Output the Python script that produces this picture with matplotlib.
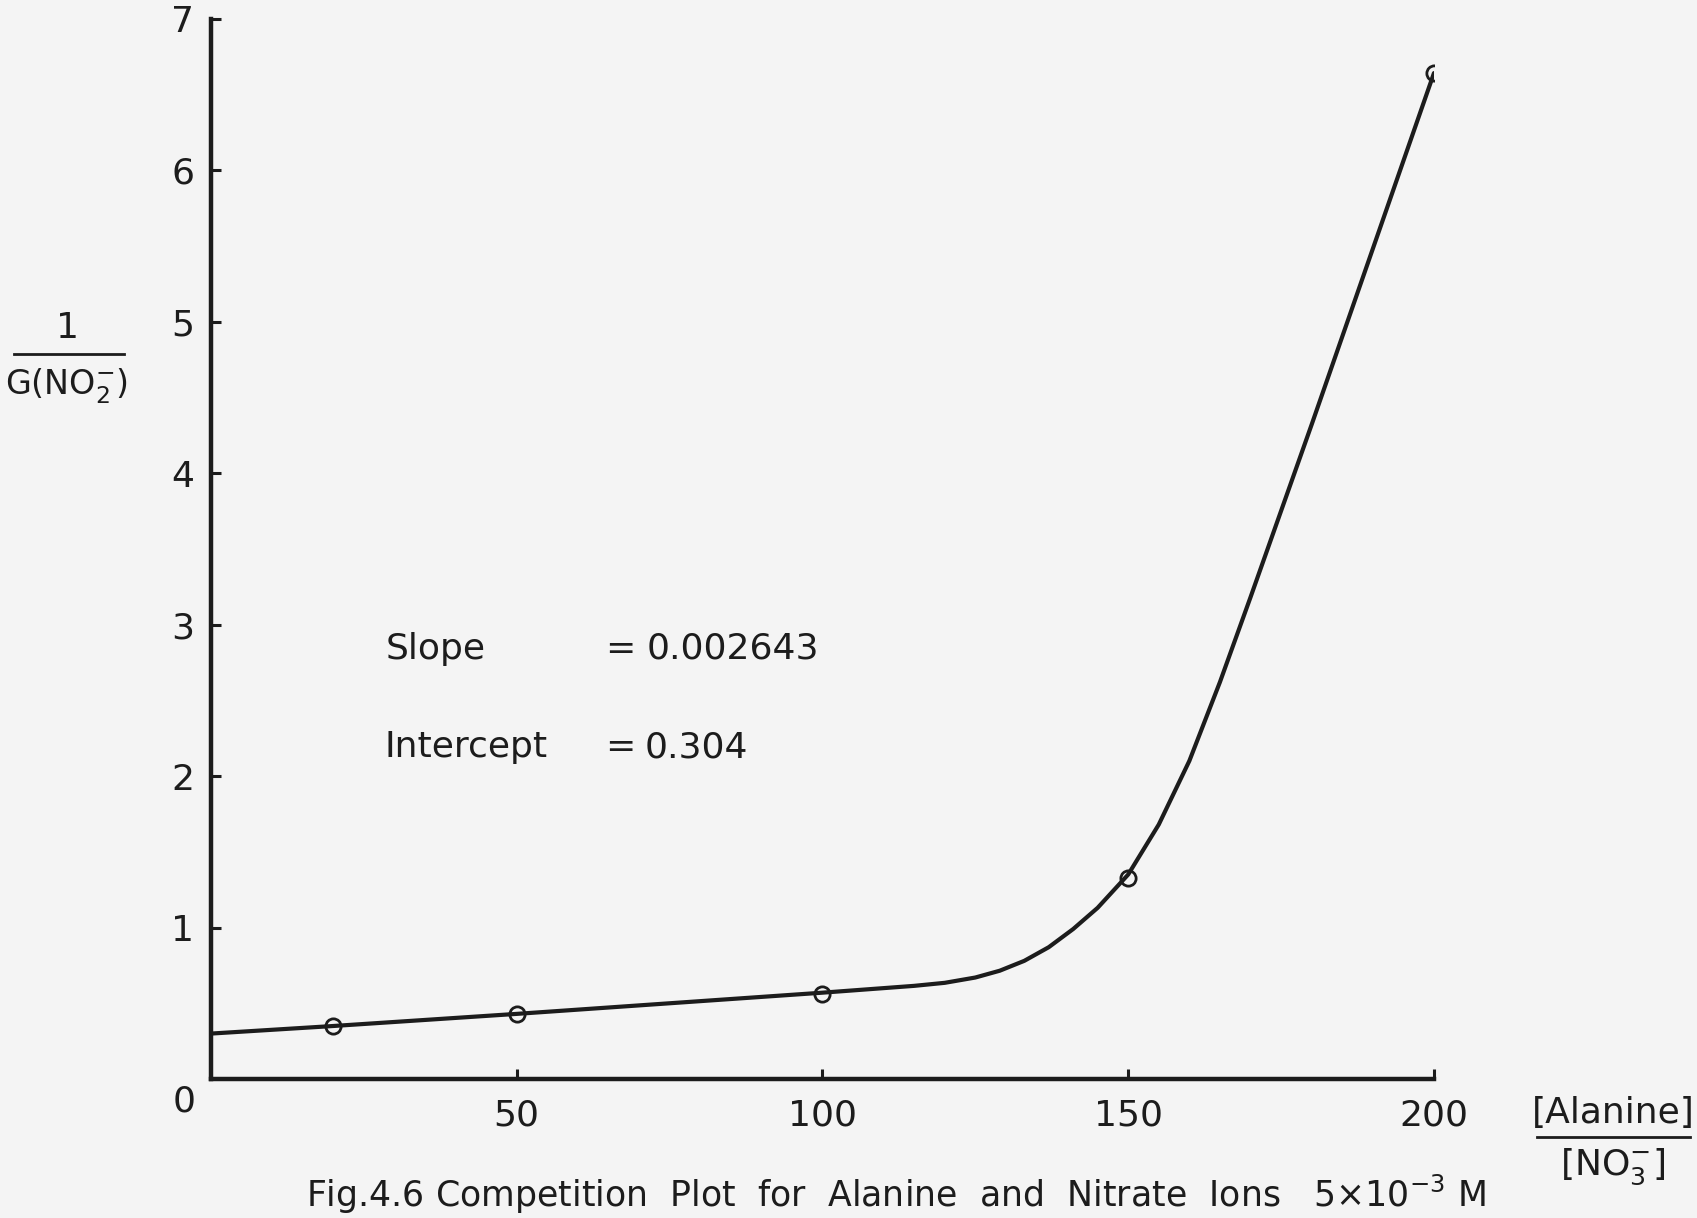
import matplotlib

matplotlib.use("Agg")
import matplotlib.pyplot as plt
from matplotlib.lines import Line2D

_INK = "#1c1c1c"
_PAPER = "#f4f4f4"

# measured points (open circles)
conc_ratio = [20, 50, 100, 150, 200]
inv_g = [0.35, 0.43, 0.56, 1.33, 6.64]

# hand-drawn curve
curve_x = [0, 20, 50, 100, 105, 110, 115, 120, 125, 129, 133, 137, 141, 145, 150,
           155, 160, 165, 170, 175, 180, 185, 190, 195, 200]
curve_y = [0.30, 0.35, 0.43, 0.57, 0.585, 0.60, 0.615, 0.635, 0.67, 0.715, 0.78, 0.87, 0.99, 1.13, 1.35,
           1.68, 2.10, 2.62, 3.18, 3.75, 4.32, 4.90, 5.48, 6.06, 6.64]

x_ticks = [50, 100, 150, 200]
y_ticks = [1, 2, 3, 4, 5, 6, 7]

plt.rcParams["font.family"] = ["DejaVu Sans"]
plt.rcParams["mathtext.fontset"] = "dejavusans"

FS = 26

fig = plt.figure(figsize=(16.97, 12.18), dpi=100)
fig.patch.set_facecolor(_PAPER)
ax = fig.add_axes([0.1243, 0.1141, 0.7207, 0.8707])
ax.set_facecolor(_PAPER)

ax.plot(curve_x, curve_y, color=_INK, lw=3.0, solid_capstyle="round", solid_joinstyle="round", zorder=3)
ax.plot(conc_ratio, inv_g, "o", ms=11, mfc="none", mec=_INK, mew=2.0, zorder=4)

ax.set_xlim(0, 200)
ax.set_ylim(0, 7)
for s in ("top", "right"):
    ax.spines[s].set_visible(False)
for s in ("left", "bottom"):
    ax.spines[s].set_linewidth(3.2)
    ax.spines[s].set_color(_INK)

ax.set_xticks(x_ticks)
ax.set_yticks(y_ticks)
ax.tick_params(direction="in", length=7, width=2.2, colors=_INK, labelsize=FS)
ax.tick_params(axis="x", pad=14)
ax.tick_params(axis="y", pad=12)
ax.text(-0.022, -0.15, "0", transform=ax.get_yaxis_transform(), ha="center", va="center",
        fontsize=FS, color=_INK)

# fit annotation
txt = dict(fontsize=FS, color=_INK, va="center")
ax.text(28.6, 2.84, "Slope", **txt)
ax.text(64.5, 2.84, "=", **txt)
ax.text(71.3, 2.84, "0.002643", **txt)
ax.text(28.4, 2.19, "Intercept", **txt)
ax.text(64.5, 2.19, "=", **txt)
ax.text(71.0, 2.19, "0.304", **txt)

# y-axis label as a fraction
fig.text(67 / 1697, 1 - 328 / 1218, "1", ha="center", va="center", fontsize=FS, color=_INK)
fig.add_artist(Line2D([14 / 1697, 124 / 1697], [1 - 354 / 1218] * 2, color=_INK, lw=2))
fig.text(67 / 1697, 1 - 386 / 1218, r"G(NO$_2^{-}$)", ha="center", va="center", fontsize=FS - 2, color=_INK)

# x-axis label as a fraction
fig.text(1613 / 1697, 1 - 1113 / 1218, "[Alanine]", ha="center", va="center", fontsize=FS, color=_INK)
fig.add_artist(Line2D([1537 / 1697, 1690 / 1697], [1 - 1137 / 1218] * 2, color=_INK, lw=2))
fig.text(1613 / 1697, 1 - 1167 / 1218, r"[NO$_3^{-}$]", ha="center", va="center", fontsize=FS, color=_INK)

fig.text(306 / 1697, 1 - 1194 / 1218,
         r"Fig.4.6 Competition  Plot  for  Alanine  and  Nitrate  Ions   5$\times$10$^{-3}$ M",
         ha="left", va="center", fontsize=FS - 1, color=_INK)

fig.savefig("out.png", dpi=100, facecolor=_PAPER)
